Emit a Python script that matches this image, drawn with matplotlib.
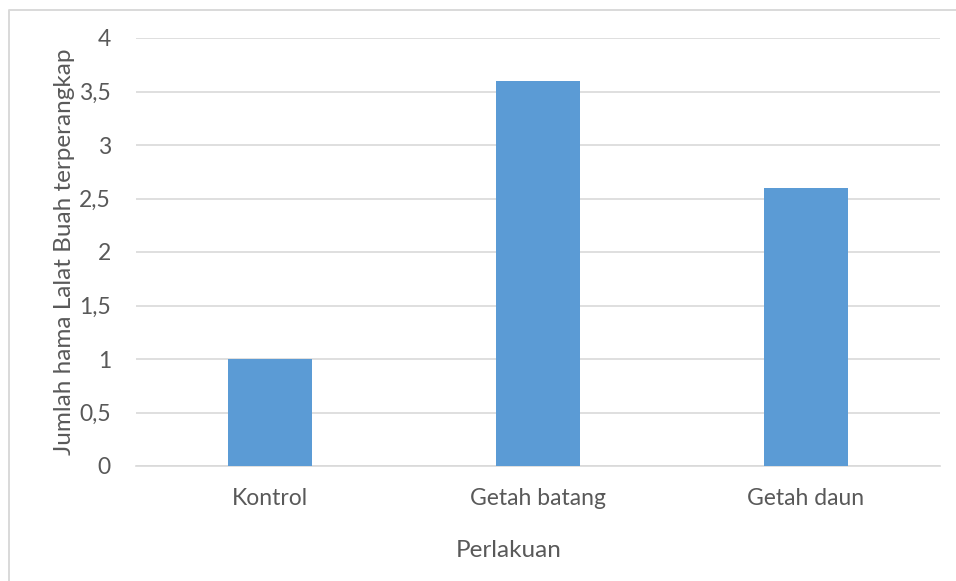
import matplotlib
matplotlib.use("Agg")
import matplotlib.pyplot as plt
from matplotlib.lines import Line2D

categories = ["Kontrol", "Getah batang", "Getah daun"]
values = [1.0, 3.6, 2.6]
yticks = [0, 0.5, 1, 1.5, 2, 2.5, 3, 3.5, 4]
ytick_labels = ["0", "0,5", "1", "1,5", "2", "2,5", "3", "3,5", "4"]

plt.rcParams['font.family'] = ['Lato', 'DejaVu Sans']
txt = '#595959'
W, H = 956, 581
fig = plt.figure(figsize=(W/100, H/100), dpi=100)
# outer chart border (top and left visible)
fig.lines.append(Line2D([8.5/W, 8.5/W, 1.0], [0.0, 1 - 9.5/H, 1 - 9.5/H], transform=fig.transFigure,
                        color='#D9D9D9', linewidth=1.4))
ax = fig.add_axes([136/W, (H-466)/H, 804/W, 428/H])
x = range(len(categories))
ax.bar(x, values, width=0.31, color='#5B9BD5', zorder=3)
ax.set_xlim(-0.5, 2.5)
ax.set_ylim(0, 4)
ax.set_yticks(yticks)
ax.set_yticklabels(ytick_labels)
ax.set_xticks(list(x))
ax.set_xticklabels(categories)
ax.grid(axis='y', color='#D9D9D9', linewidth=1.2, zorder=0)
for s in ['top', 'right', 'left']:
    ax.spines[s].set_visible(False)
ax.spines['bottom'].set_color('#D9D9D9')
ax.spines['bottom'].set_linewidth(1.2)
ax.tick_params(axis='both', length=0, labelsize=16.5, colors=txt)
ax.tick_params(axis='x', pad=16)
ax.tick_params(axis='y', pad=18)
ax.set_xlabel("Perlakuan", fontsize=17.5, color=txt)
ax.xaxis.set_label_coords(0.463, -0.172)
ax.set_ylabel("Jumlah hama Lalat Buah terperangkap", fontsize=17.5, color=txt, labelpad=3)
fig.savefig("out.png", dpi=100)
